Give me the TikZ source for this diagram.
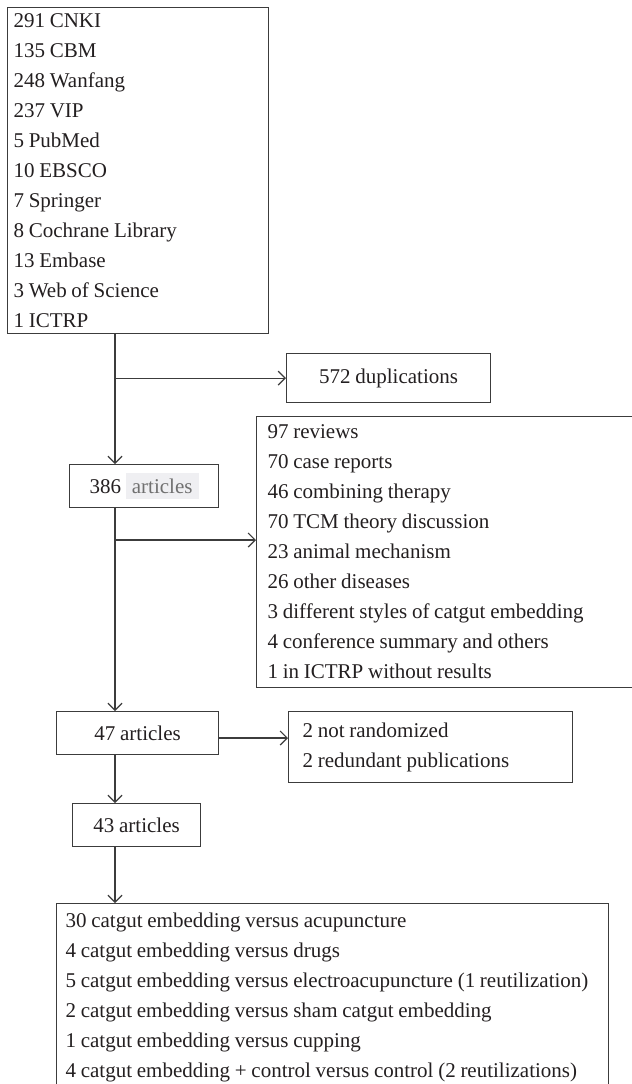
\documentclass[tikz,border=0pt]{standalone}
\usepackage{fontspec}
\setmainfont[WordSpace=0.9]{Liberation Serif}
\usetikzlibrary{arrows.meta}
\definecolor{linegray}{HTML}{3C3C3C}
\definecolor{inkblack}{HTML}{231F20}
\definecolor{fadegray}{HTML}{707070}
\definecolor{markgray}{HTML}{EFEFF2}
\newcommand{\plainsp}{\spaceskip=0pt\xspaceskip=0pt\relax}
\tikzset{
  box/.style={draw=linegray, line width=0.6pt, anchor=north west, inner ysep=0pt, text=inkblack, font=\fontsize{10.5}{15}\selectfont},
  listbox/.style={box, align=left, execute at begin node=\plainsp},
  countbox/.style={box, align=center, inner xsep=0pt},
  flow/.style={draw=linegray, line width=0.6pt, -{Straight Barb[length=3.5pt,width=7pt]}}
}
\newcommand{\faded}[1]{{\setlength{\fboxsep}{3pt}\colorbox{markgray}{\textcolor{fadegray}{#1}}}}

\begin{document}
\begin{tikzpicture}[x=0.5pt,y=-0.5pt]
\clip (0,0) rectangle (632,1084);
% databases
\node[listbox, text width=124.5pt, inner xsep=3pt, minimum height=163pt] (src) at (7,7)
  {291 CNKI\\135 CBM\\248 Wanfang\\237 VIP\\5 PubMed\\10 EBSCO\\7 Springer\\8 Cochrane Library\\13 Embase\\3 Web of Science\\1 ICTRP};
\node[countbox, minimum width=102pt, minimum height=24.5pt] (dup) at (286,353) {572 duplications};
% first screening
\node[countbox, minimum width=74.5pt, minimum height=21.5pt] (a386) at (69,464) {386 \faded{articles}};
\node[listbox, text width=181pt, inner xsep=5.5pt, minimum height=135.5pt] (excl1) at (256,416)
  {97 reviews\\70 case reports\\46 combining therapy\\70 TCM theory discussion\\23 animal mechanism\\26 other diseases\\3 different styles of catgut embedding\\4 conference summary and others\\1 in ICTRP without results};
% full text
\node[countbox, minimum width=81pt, minimum height=21.5pt] (a47) at (56,711) {47 articles};
\node[listbox, text width=128pt, inner xsep=7pt, minimum height=35.5pt] (excl2) at (288,711)
  {2 not randomized\\2 redundant publications};
\node[countbox, minimum width=64pt, minimum height=21.5pt] (a43) at (72,803) {43 articles};
% included
\node[listbox, text width=267pt, inner xsep=4.5pt, minimum height=93.5pt] (incl) at (56,903)
  {30 catgut embedding versus acupuncture\\4 catgut embedding versus drugs\\5 catgut embedding versus electroacupuncture (1 reutilization)\\2 catgut embedding versus sham catgut embedding\\1 catgut embedding versus cupping\\4 catgut embedding + control versus control (2 reutilizations)};
% connectors
\coordinate (spine) at (115,0);
\coordinate (fork) at (115,540);
\coordinate (side) at (0,738);
\draw[flow] (src.south -| spine) -- (a386.north -| spine);
\draw[flow] (dup.west -| spine) -- (dup.west);
\draw[flow] (a386.south -| spine) -- (a47.north -| spine);
\draw[flow] (fork) -- (excl1.west |- fork);
\draw[flow] (a47.east |- side) -- (excl2.west |- side);
\draw[flow] (a47.south -| spine) -- (a43.north -| spine);
\draw[flow] (a43.south -| spine) -- (incl.north -| spine);
\end{tikzpicture}
\end{document}
